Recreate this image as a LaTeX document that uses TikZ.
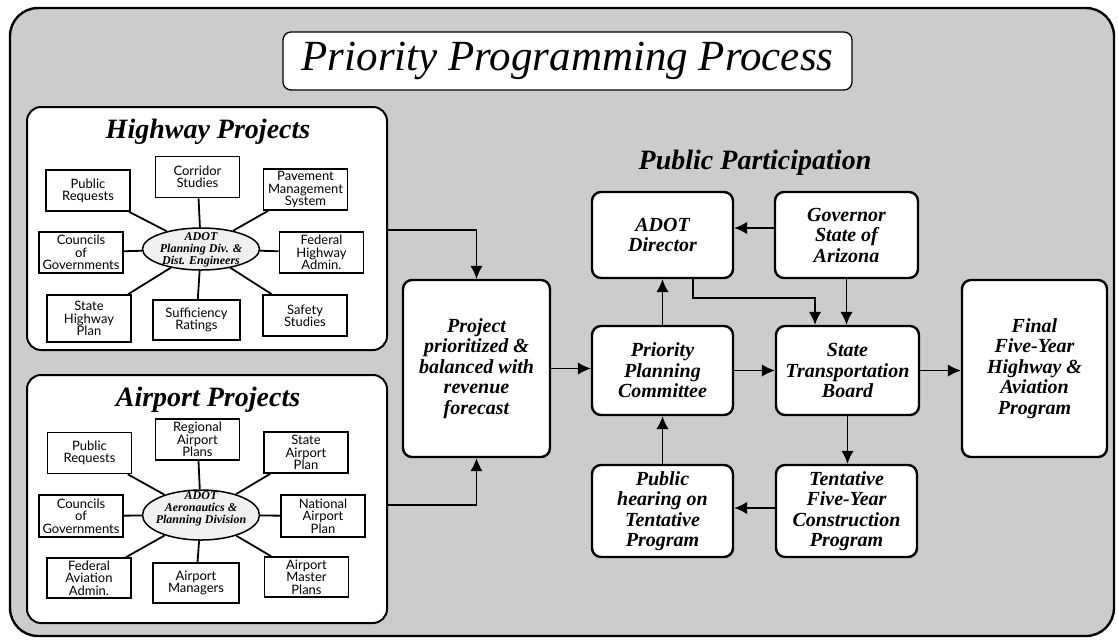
\documentclass[tikz,border=0pt]{standalone}
\usepackage{fontspec}
\setmainfont{Liberation Serif}
\setsansfont{Lato}
\usetikzlibrary{arrows.meta,shapes.geometric}

\begin{document}
\begin{tikzpicture}[x=1pt,y=-1pt,
	flowbox/.style={draw=black,fill=white,line width=2.4pt,rounded corners=9pt,inner sep=0pt,align=center,font=\fontsize{20}{20.5}\selectfont\bfseries\itshape},
	groupbox/.style={draw=black,fill=white,line width=2pt,rounded corners=14pt,inner sep=0pt,minimum width=360pt},
	smallbox/.style={draw=black,fill=white,line width=1.6pt,inner sep=0pt,align=center,minimum width=84pt,minimum height=41pt,font=\fontsize{13}{12.3}\selectfont\sffamily},
	hub/.style={ellipse,draw=black,fill=black!6,line width=1.5pt,inner sep=0pt,minimum width=117pt},
	hubtext/.style={align=center,inner sep=0pt,font=\fontsize{12}{12}\selectfont\bfseries\itshape},
	heading/.style={font=\fontsize{28}{28}\selectfont\bfseries\itshape},
	spoke/.style={line width=1.8pt},
	arr/.style={line width=1.6pt,-{Latex[length=13pt,width=12.5pt]}}]

	\useasboundingbox (0,0) rectangle (1118,641);
	\draw[line width=2.4pt,rounded corners=28pt,fill=black!20] (10,8) rectangle (1114,636);

	\node[draw=black,fill=white,line width=1.3pt,rounded corners=8pt,minimum width=569pt,minimum height=58pt,font=\fontsize{43}{43}\selectfont\itshape] (title) at (567.5,61) {Priority Programming Process};

	% highway projects
	\node[groupbox,minimum height=243pt] (hw) at (207,228.5) {};
	\node[heading] (hwhead) at (208,132) {Highway Projects};
	\node[hub,minimum height=42pt] (hwadot) at (201,249) {};
	\node[hubtext] (hwadottext) at (201,250) {ADOT\\Planning Div. \&\\Dist. Engineers};
	\node[smallbox] (hwcorr) at (197.5,177) {Corridor\\Studies};
	\node[smallbox] (hwpub) at (88,190.5) {Public\\Requests};
	\node[smallbox] (hwpav) at (305.5,189.5) {Pavement\\Management\\System};
	\node[smallbox] (hwcoun) at (81,252.5) {Councils\\of\\Governments};
	\node[smallbox] (hwfed) at (321.5,252.5) {Federal\\Highway\\Admin.};
	\node[smallbox,minimum height=47pt] (hwstate) at (89,318.5) {State\\Highway\\Plan};
	\node[smallbox,minimum width=87pt,minimum height=40pt] (hwsuff) at (196.5,320) {Sufficiency\\Ratings};
	\node[smallbox] (hwsafe) at (305,315.5) {Safety\\Studies};
	\foreach \b in {hwcorr,hwpub,hwpav,hwcoun,hwfed,hwstate,hwsuff,hwsafe}
		\draw[spoke] (hwadot) -- (\b);

	% airport projects
	\node[groupbox,minimum height=248pt] (ap) at (207,499) {};
	\node[heading] (aphead) at (208,400) {Airport Projects};
	\node[hub,minimum height=50pt] (apadot) at (201,515) {};
	\node[hubtext] (apadottext) at (201,509) {ADOT\\Aeronautics \&\\Planning Division};
	\node[smallbox] (apreg) at (197.5,439.5) {Regional\\Airport\\Plans};
	\node[smallbox] (appub) at (89.5,453) {Public\\Requests};
	\node[smallbox] (apstate) at (306,452.5) {State\\Airport\\Plan};
	\node[smallbox,minimum height=42pt] (apcoun) at (81,516) {Councils\\of\\Governments};
	\node[smallbox,minimum height=42pt] (apnat) at (323,516) {National\\Airport\\Plan};
	\node[smallbox,minimum height=40pt] (apfed) at (89,578) {Federal\\Aviation\\Admin.};
	\node[smallbox,minimum width=86pt,minimum height=40pt] (apmgr) at (196,583) {Airport\\Managers};
	\node[smallbox,minimum height=40pt] (apmaster) at (306.5,577) {Airport\\Master\\Plans};
	\foreach \b in {apreg,appub,apstate,apcoun,apnat,apfed,apmgr,apmaster}
		\draw[spoke] (apadot) -- (\b);

	% programming flow
	\node[heading] (pubhead) at (755,163) {Public Participation};
	\node[flowbox,minimum width=147pt,minimum height=177pt] (proj) at (476.5,368.5) {Project\\prioritized \&\\balanced with\\revenue\\forecast};
	\node[flowbox,minimum width=141pt,minimum height=86pt] (dir) at (662.5,235) {ADOT\\Director};
	\node[flowbox,minimum width=143pt,minimum height=86pt] (gov) at (846.5,235) {Governor\\State of\\Arizona};
	\node[flowbox,minimum width=141pt,minimum height=89pt] (ppc) at (662.5,370.5) {Priority\\Planning\\Committee};
	\node[flowbox,minimum width=143pt,minimum height=89pt] (stb) at (847.5,370.5) {State\\Transportation\\Board};
	\node[flowbox,minimum width=141pt,minimum height=92pt] (hear) at (662.5,511) {Public\\hearing on\\Tentative\\Program};
	\node[flowbox,minimum width=141pt,minimum height=92pt] (tent) at (846.5,511) {Tentative\\Five-Year\\Construction\\Program};
	\node[flowbox,minimum width=145pt,minimum height=177pt] (final) at (1034.5,368.5) {Final\\Five-Year\\Highway \&\\Aviation\\Program};

	\draw[arr] ([yshift=-1.5pt]hw.east) -| (proj.north);
	\draw[arr] ([yshift=-6pt]ap.east) -| (proj.south);
	\draw[arr] (proj.east) -- (proj.east -| ppc.west);
	\draw[arr] (ppc) -- (stb);
	\draw[arr] (stb.east) -- (stb.east -| final.west);
	\draw[arr] ([yshift=7pt]gov.west) -- ([yshift=7pt]dir.east);
	\draw[arr] (gov.south) -- (gov.south |- stb.north);
	\draw[arr] ([xshift=30.5pt]dir.south) -- ++(0,19) -| ([xshift=-32.5pt]stb.north);
	\draw[arr] (ppc) -- (dir);
	\draw[arr] (stb.south) -- (stb.south |- tent.north);
	\draw[arr] ([yshift=3pt]tent.west) -- ([yshift=3pt]hear.east);
	\draw[arr] (hear) -- (ppc);
\end{tikzpicture}
\end{document}
